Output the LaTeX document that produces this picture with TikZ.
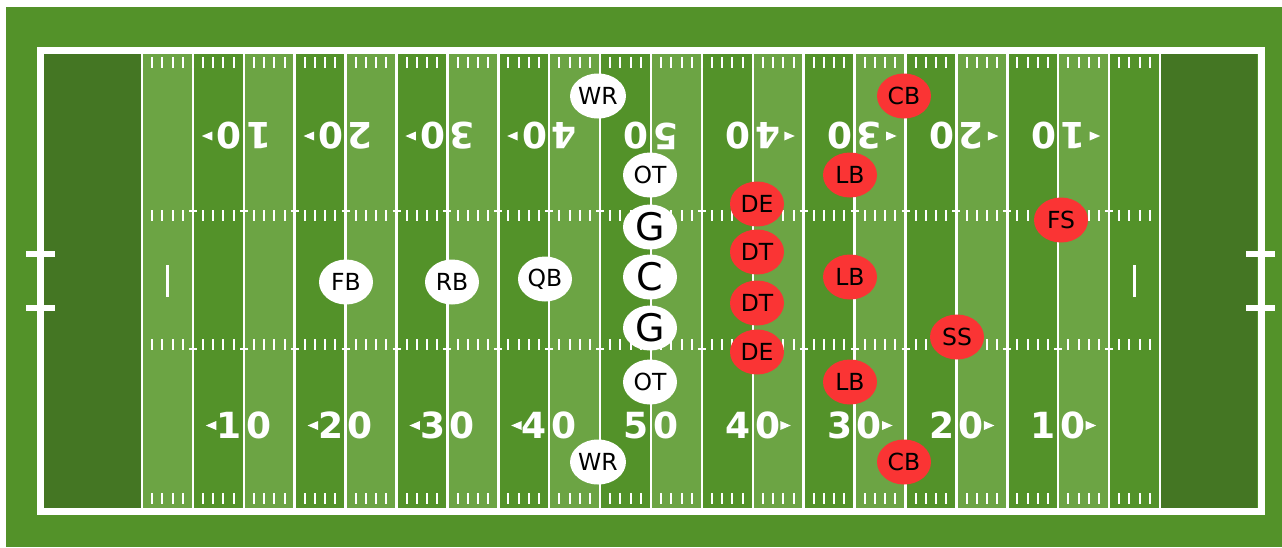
\documentclass[tikz,border=0pt]{standalone}
\usepackage{fontspec}
\setmainfont{DejaVu Sans}
\usetikzlibrary{positioning,shapes.geometric}
\definecolor{TurfGreen}{RGB}{83,146,41}
\definecolor{TurfLight}{RGB}{108,164,68}
\definecolor{TurfEnd}{RGB}{68,118,35}
\definecolor{DefRed}{RGB}{250,52,52}

\begin{document}
\begin{tikzpicture}[
        x=1pt,y=-1pt,
        offense/.style={ellipse,fill=white,minimum width=54pt,minimum height=45pt,inner sep=0pt,font=\fontsize{23.5}{23.5}\selectfont},
        defense/.style={offense,fill=DefRed},
        lineman/.style={offense,font=\fontsize{38}{38}\selectfont},
        yardnum/.style={text=white,inner sep=0pt,font=\fontsize{36}{36}\selectfont\bfseries},
        chalk/.style={draw=white,line width=2.5pt},
        tick/.style={draw=white,line width=2pt}
      ]
        \useasboundingbox (0,0) rectangle (1282,547);
        \fill[TurfGreen] (6,7) rectangle (1282,547);
        % end zones and stripes
        \fill[TurfEnd] (44,53) rectangle (142,508);
        \fill[TurfEnd] (1160,53) rectangle (1257,508);
        \foreach \k in {0,2,...,18}
          \fill[TurfLight] ({142+\k*50.9},53) rectangle ({142+(\k+1)*50.9},508);
        \foreach \k in {0,...,20}
          \draw[chalk] ({142+\k*50.9},53) -- ({142+\k*50.9},508);
        % hash marks
        \foreach \m in {1,...,99}{
          \pgfmathtruncatemacro\r{mod(\m,5)}
          \ifnum\r>0
            \draw[tick] ({142+\m*10.18},57) -- ++(0,11);
            \draw[tick] ({142+\m*10.18},210) -- ++(0,11);
            \draw[tick] ({142+\m*10.18},339) -- ++(0,11);
            \draw[tick] ({142+\m*10.18},493) -- ++(0,11);
          \fi
        }
        \foreach \k in {1,...,19}{
          \draw[tick] ({142+\k*50.9-4},211) -- ++(8,0);
          \draw[tick] ({142+\k*50.9-4},349) -- ++(8,0);
        }
        \draw[chalk] (167.5,265) -- (167.5,297);
        \draw[chalk] (1134.5,265) -- (1134.5,297);
        % border and goal posts
        \draw[white,line width=7pt] (40.5,50) rectangle (1261,511);
        \foreach \gy in {254,307.5}{
          \draw[white,line width=6pt] (26,\gy) -- (55,\gy);
          \draw[white,line width=6pt] (1246,\gy) -- (1275,\gy);
        }
        % yard numbers
        \foreach \k/\d in {1/1,2/2,3/3,4/4,5/5,6/4,7/3,8/2,9/1}{
          \pgfmathsetmacro\yx{142+\k*101.8}
          \node[yardnum,anchor=east] (lo\k) at (\yx-2,425.5) {\d};
          \node[yardnum,anchor=west] (lz\k) at (\yx+2,425.5) {0};
          \node[yardnum,rotate=180,anchor=east] (hi\k) at (\yx+2,136) {\d};
          \node[yardnum,rotate=180,anchor=west] (hz\k) at (\yx-2,136) {0};
          \ifnum\k<5
            \fill[white] (\yx-38,425.5) -- (\yx-27.5,421) -- (\yx-27.5,430) -- cycle;
            \fill[white] (\yx-42,136) -- (\yx-31.5,131.5) -- (\yx-31.5,140.5) -- cycle;
          \fi
          \ifnum\k>5
            \fill[white] (\yx+38,425.5) -- (\yx+27.5,421) -- (\yx+27.5,430) -- cycle;
            \fill[white] (\yx+42,136) -- (\yx+31.5,131.5) -- (\yx+31.5,140.5) -- cycle;
          \fi
        }
        % offense
        \node[offense] (wrTop) at (598,96) {WR};
        \node[offense] (otTop) at (650,175) {OT};
        \node[lineman] (gTop) at (650,227) {G};
        \node[lineman] (ctr) at (650,277) {C};
        \node[lineman] (gBot) at (650,328) {G};
        \node[offense] (otBot) at (650,382) {OT};
        \node[offense] (wrBot) at (598,462) {WR};
        \node[offense] (fb) at (346,282) {FB};
        \node[offense] (rb) at (452,282) {RB};
        \node[offense] (qb) at (545,279) {QB};
        % defense
        \node[defense] (cbTop) at (904,96) {CB};
        \node[defense] (lbTop) at (850,175) {LB};
        \node[defense] (deTop) at (757,204) {DE};
        \node[defense] (fs) at (1061,220) {FS};
        \node[defense] (dtTop) at (757,252) {DT};
        \node[defense] (lbMid) at (850,277) {LB};
        \node[defense] (dtBot) at (757,303) {DT};
        \node[defense] (ss) at (957,337) {SS};
        \node[defense] (deBot) at (757,352) {DE};
        \node[defense] (lbBot) at (850,382) {LB};
        \node[defense] (cbBot) at (904,462) {CB};
      \end{tikzpicture}
\end{document}
